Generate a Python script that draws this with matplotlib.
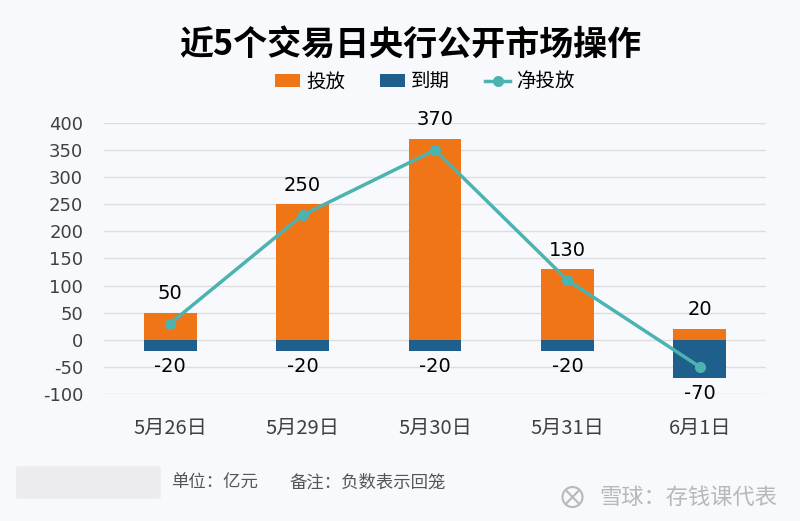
import matplotlib
matplotlib.use("Agg")
import matplotlib.pyplot as plt
import numpy as np
from matplotlib.patches import FancyBboxPatch, Circle

plt.rcParams['font.family'] = ['Noto Sans CJK SC', 'DejaVu Sans']

categories = ["5月26日", "5月29日", "5月30日", "5月31日", "6月1日"]
inject = [50, 250, 370, 130, 20]
mature = [-20, -20, -20, -20, -70]
net = [30, 230, 350, 110, -50]
yticks = [-100, -50, 0, 50, 100, 150, 200, 250, 300, 350, 400]

bg = "#f8f9fc"
c_orange = "#f07516"
c_blue = "#1f5f8b"
c_teal = "#4cb3b1"

fig = plt.figure(figsize=(8, 5.21), dpi=100, facecolor=bg)
ax = fig.add_axes([0.13, 0.2438, 0.8275, 0.5202], facecolor=bg)

x = np.arange(len(categories))
w = 0.4
ax.bar(x, inject, w, color=c_orange, label="投放", zorder=2)
ax.bar(x, mature, w, color=c_blue, label="到期", zorder=2)
ax.plot(x, net, color=c_teal, lw=2.5, marker='o', ms=7, label="净投放", zorder=3)

for xi, v in zip(x, inject):
    ax.text(xi, v + 18, str(v), ha='center', va='bottom', fontsize=14, color='black', family=['DejaVu Sans'])
for xi, v in zip(x, mature):
    ax.text(xi, v - 12, str(v), ha='center', va='top', fontsize=14, color='black', family=['DejaVu Sans'])

ax.set_xlim(-0.5, len(categories) - 0.5)
ax.set_ylim(-100, 400)
ax.set_yticks(yticks)
ax.set_yticklabels([str(t) for t in yticks], fontsize=13, color='#404040', family=['DejaVu Sans'])
ax.set_xticks(x)
ax.set_xticklabels(categories, fontsize=14.5, color='#404040')
ax.tick_params(axis='both', length=0)
ax.tick_params(axis='y', pad=15)
ax.tick_params(axis='x', pad=17)
ax.grid(axis='y', color='#dedede', lw=1, zorder=0)
for s in ax.spines.values():
    s.set_visible(False)

fig.text(0.513, 0.915, "近5个交易日央行公开市场操作", ha='center', va='center',
         fontsize=24.5, fontweight='bold', color='black')
handles, labels = ax.get_legend_handles_labels()
order = [labels.index(l) for l in ["投放", "到期", "净投放"]]
leg = fig.legend([handles[i] for i in order], [labels[i] for i in order],
                 loc='center', bbox_to_anchor=(0.531, 0.843), ncol=3, frameon=False,
                 fontsize=14, handlelength=1.3, handleheight=0.6, columnspacing=1.8, handletextpad=0.3)

fig.patches.append(FancyBboxPatch((0.023, 0.046), 0.175, 0.056, boxstyle="round,pad=0.003",
                                  transform=fig.transFigure, facecolor='#ececee', edgecolor='none'))
fig.text(0.214, 0.073, "单位：亿元", ha='left', va='center', fontsize=12.5, color='#555555')
fig.text(0.362, 0.073, "备注：负数表示回笼", ha='left', va='center', fontsize=12.5, color='#555555')
fig.text(0.972, 0.046, "雪球：存钱课代表", ha='right', va='center', fontsize=16, color='#b8b8b8')
# logo drawn as a shape
lx, ly = 572.5 / 800, 0.046
fig.patches.append(Circle((lx * 800, ly * 521), 10, transform=None, fill=False, edgecolor='#b8b8b8', lw=1.5))
fig.lines.append(plt.Line2D([lx - 0.007, lx + 0.007], [ly - 0.011, ly + 0.011], transform=fig.transFigure, color='#b8b8b8', lw=1.5))
fig.lines.append(plt.Line2D([lx - 0.007, lx + 0.007], [ly + 0.011, ly - 0.011], transform=fig.transFigure, color='#b8b8b8', lw=1.5))

fig.savefig("out.png", dpi=100, facecolor=bg)
